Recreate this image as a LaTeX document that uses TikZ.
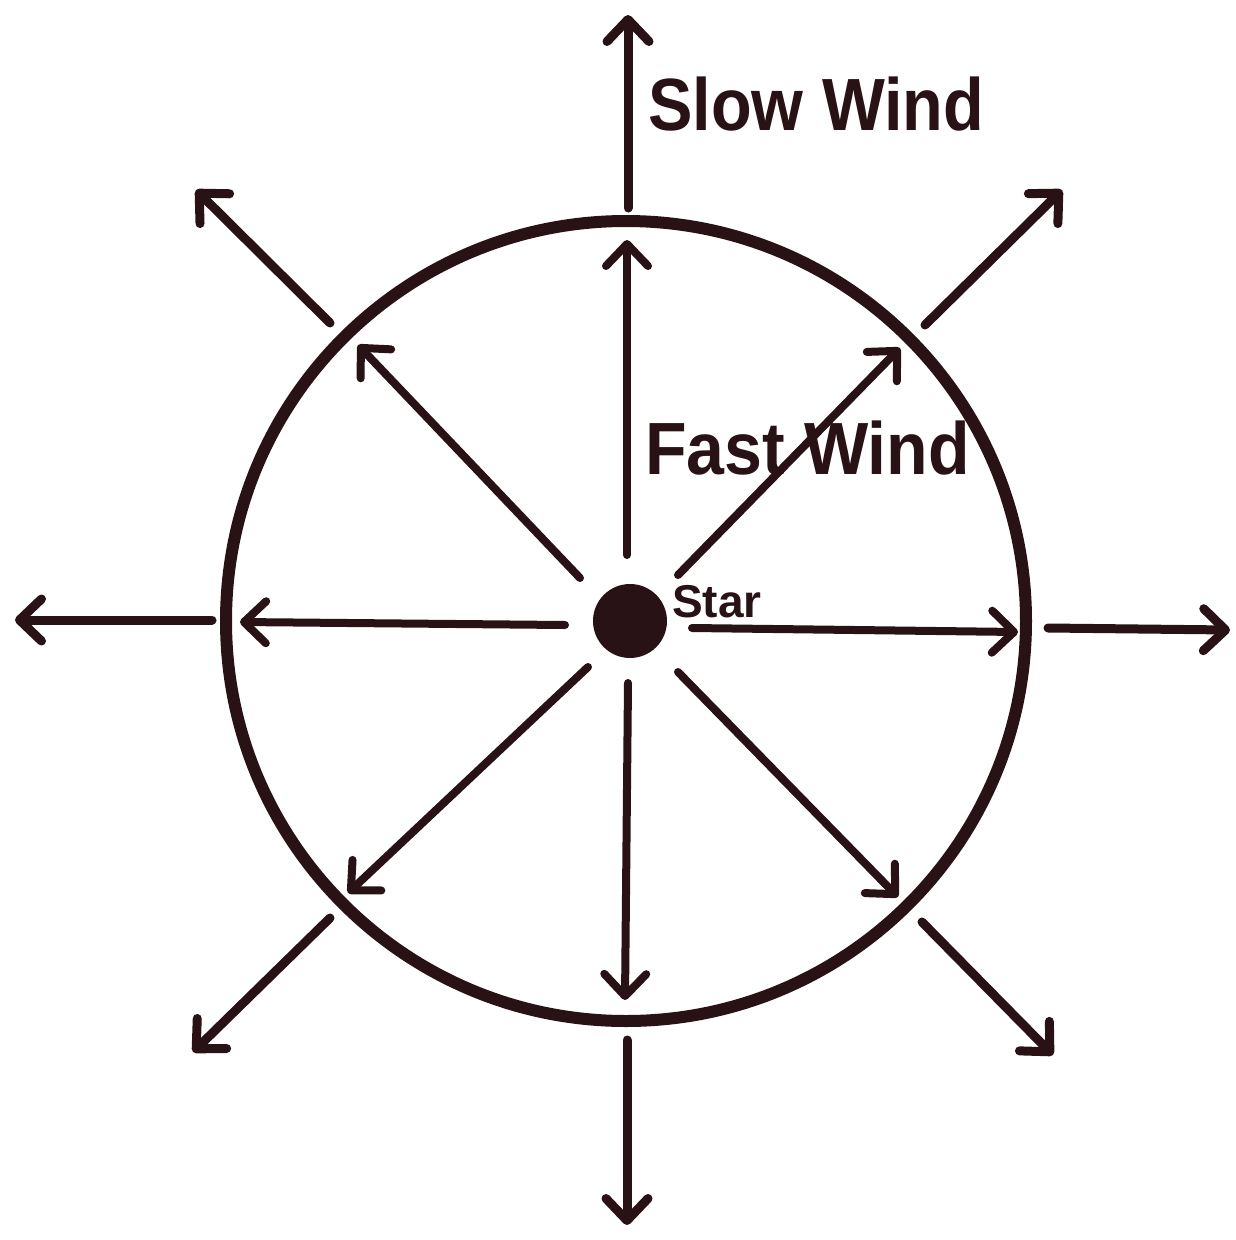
\documentclass[tikz,border=0pt]{standalone}
\usepackage{fontspec}
\setmainfont{Liberation Sans}
\usetikzlibrary{arrows.meta}
\definecolor{ink}{RGB}{40,18,22}
\begin{document}
\begin{tikzpicture}[x=1pt,y=-1pt,
  wind/.style={draw=ink,line width=9pt,line cap=round,
    -{Straight Barb[length=22pt,width=42pt,round]}},
  lbl/.style={anchor=base west,inner sep=0pt,text=ink},
  pt/.style={inner sep=0pt,minimum size=0pt}]
\useasboundingbox[fill=white] (0,0) rectangle (1236,1240);
% shell and star
\node[draw=ink,line width=12pt,circle,minimum size=800pt,inner sep=0pt] (shell) at (626,621) {};
\node[fill=ink,circle,minimum size=74pt,inner sep=0pt] (star) at (630,621) {};
% inner arrow coordinates
\coordinate (iUs) at (627,555);  \coordinate (iUe) at (627,240);
\coordinate (iULs) at (580,578); \coordinate (iULe) at (358,345);
\coordinate (iURs) at (678,575); \coordinate (iURe) at (900,348);
\coordinate (iLs) at (565,625);  \coordinate (iLe) at (240,622);
\coordinate (iRs) at (692,628);  \coordinate (iRe) at (1018,632);
\coordinate (iDLs) at (588,667); \coordinate (iDLe) at (348,893);
\coordinate (iDs) at (628,683);  \coordinate (iDe) at (625,1000);
\coordinate (iDRs) at (678,672); \coordinate (iDRe) at (898,897);
% outer arrow coordinates
\coordinate (oUs) at (628,208);  \coordinate (oUe) at (628,15);
\coordinate (oULs) at (330,323); \coordinate (oULe) at (196,190);
\coordinate (oURs) at (925,325); \coordinate (oURe) at (1062,190);
\coordinate (oLs) at (212,620);  \coordinate (oLe) at (15,620);
\coordinate (oRs) at (1048,628); \coordinate (oRe) at (1230,630);
\coordinate (oDLs) at (330,918); \coordinate (oDLe) at (193,1052);
\coordinate (oDs) at (627,1040); \coordinate (oDe) at (627,1225);
\coordinate (oDRs) at (922,922); \coordinate (oDRe) at (1053,1055);
% fast wind (inner) and slow wind (outer) arrows
\foreach \d in {U,UL,UR,L,R,DL,D,DR}{
  \draw[wind,line width=8pt] (i\d s) -- (i\d e);
  \draw[wind] (o\d s) -- (o\d e);
}
% labels
\node[lbl,font=\bfseries\fontsize{74}{80}\selectfont,xscale=0.9] (slow) at (648,130) {Slow Wind};
\node[lbl,font=\bfseries\fontsize{74}{80}\selectfont,xscale=0.92] (fast) at (645,474) {Fast Wind};
\node[lbl,font=\bfseries\fontsize{46}{50}\selectfont] (starlbl) at (672,617) {Star};
\end{tikzpicture}
\end{document}
